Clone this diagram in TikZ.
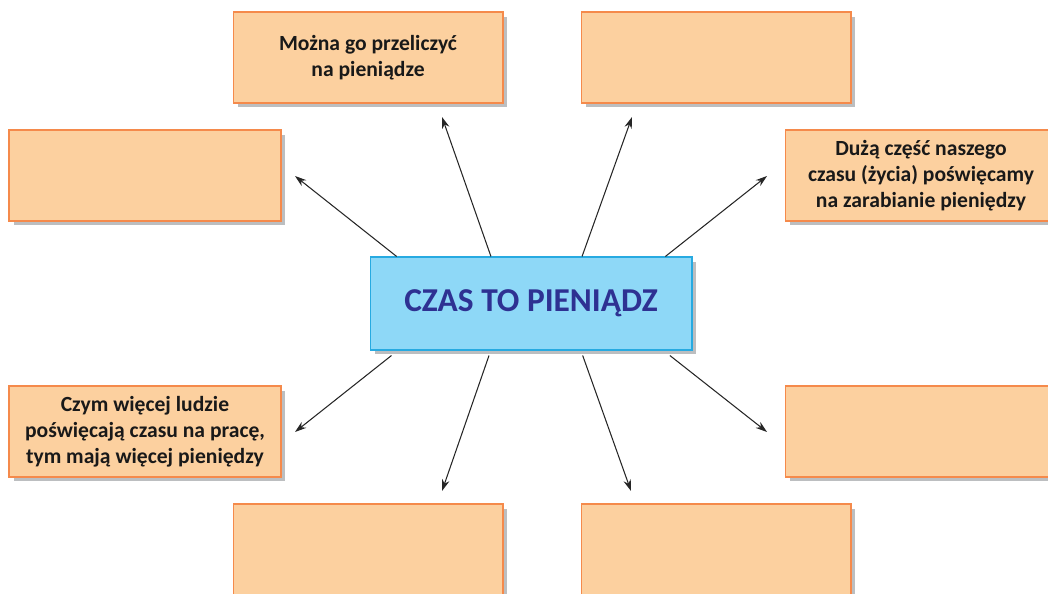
\documentclass[tikz,border=0pt]{standalone}
\usepackage{fontspec}
\setmainfont{Carlito}
\usetikzlibrary{arrows.meta,calc,shadows}
\definecolor{boxfill}{HTML}{FCD09F}\definecolor{boxline}{HTML}{F58A4B}
\definecolor{mainfill}{HTML}{8ED8F7}\definecolor{mainline}{HTML}{27AAE1}
\definecolor{maintext}{HTML}{2E3192}\definecolor{boxshadow}{HTML}{BCBEC0}
\tikzset{box/.style={draw=boxline,fill=boxfill,line width=.6pt,align=center,inner sep=0pt,text=black!90,
  minimum width=5.4cm,minimum height=1.82cm,font=\fontsize{12.3}{14.8}\selectfont\bfseries,
  drop shadow={fill=boxshadow,opacity=1,shadow xshift=.09cm,shadow yshift=-.09cm}},
  wide/.style={box,minimum width=5.44cm},
  arr/.style={-{Stealth[length=.23cm,width=.15cm]},line width=.6pt,black!85}}

\begin{document}
\begin{tikzpicture}[x=.02cm,y=-.02cm]
\useasboundingbox(0,0)rectangle(1048,594);
\node[box,draw=mainline,fill=mainfill,minimum width=6.44cm,minimum height=1.86cm,text=maintext,
  font=\fontsize{19}{22}\selectfont\bfseries](c)at(531,303.5){CZAS TO PIENIĄDZ};
\node[box](tl)at(368,57.5){Można go przeliczyć\\na pieniądze};\node[box](tr)at(716,57.5){};
\node[wide](lu)at(145,175.5){};\node[wide](ru)at(921,175.5){Dużą część naszego\\czasu (życia) poświęcamy\\na zarabianie pieniędzy};
\node[wide](ll)at(145,431.5){Czym więcej ludzie\\poświęcają czasu na pracę,\\tym mają więcej pieniędzy};\node[wide](rl)at(921,431.5){};
\node[box](bl)at(368,549.5){};\node[box](br)at(716,549.5){};
% arrow tips next to the outer boxes
\coordinate(plu)at(295,176);\coordinate(ptl)at(442,117);\coordinate(ptr)at(632,117);\coordinate(pru)at(767,176);
\coordinate(pll)at(295,432);\coordinate(pbl)at(442,491);\coordinate(pbr)at(631,491);\coordinate(prl)at(767,432);
\foreach\f/\p in{.084/plu,.376/ptl,.658/ptr,.916/pru}\draw[arr]($(c.north west)!\f!(c.north east)$)--(\p);
\foreach\f/\p in{.068/pll,.37/pbl,.66/pbr,.93/prl}\draw[arr]($(c.south west)!\f!(c.south east)+(0,5)$)--(\p);
\end{tikzpicture}
\end{document}
